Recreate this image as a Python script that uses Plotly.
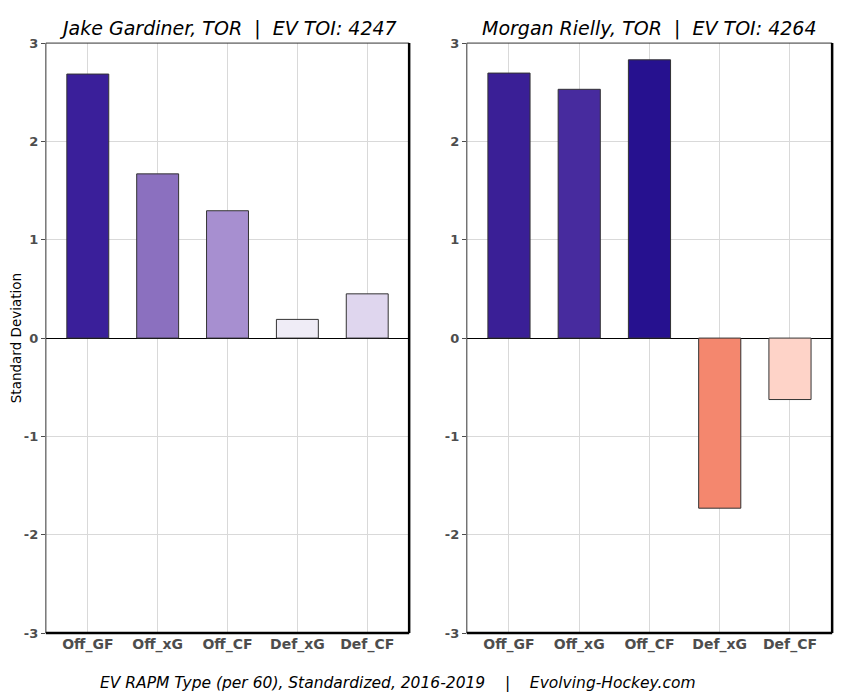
import plotly.graph_objects as go

categories = ["Off_GF", "Off_xG", "Off_CF", "Def_xG", "Def_CF"]
gardiner_vals = [2.685, 1.67, 1.295, 0.19, 0.45]
rielly_vals = [2.695, 2.53, 2.83, -1.73, -0.625]
gardiner_colors = ["#3a1f9a", "#8b70bf", "#a78fd0", "#efecf6", "#dfd6ee"]
rielly_colors = ["#3a1f96", "#472b9e", "#26118f", "#f4876e", "#fed3c8"]
titles = ["Jake Gardiner, TOR  |  EV TOI: 4247", "Morgan Rielly, TOR  |  EV TOI: 4264"]
yticks = [-3, -2, -1, 0, 1, 2, 3]
ytick_text = ["-3", "-2", "-1", "0", "1", "2", "3"]
caption = "EV RAPM Type (per 60), Standardized, 2016-2019    |    Evolving-Hockey.com"

W, H = 850, 700
doms_x = [(0.0423, 0.4707), (0.5387, 0.9695)]
dom_y = (0.0977, 0.959)

fig = go.Figure()
for i, (vals, cols) in enumerate([(gardiner_vals, gardiner_colors), (rielly_vals, rielly_colors)]):
    xa = "x" if i == 0 else "x2"
    ya = "y" if i == 0 else "y2"
    fig.add_trace(go.Bar(
        x=categories, y=vals, xaxis=xa, yaxis=ya, width=0.6,
        marker=dict(color=cols, line=dict(color="#333333", width=1)),
        showlegend=False, hoverinfo="x+y"))

axis_common_x = dict(
    type="category", range=[-0.6, 4.6], showgrid=True, gridcolor="#d9d9d9", gridwidth=1,
    showline=False, zeroline=False, ticks="", ticklabelstandoff=1,
    tickfont=dict(family="DejaVu Sans", size=14, color="#4d4d4d", weight="bold"),
)
axis_common_y = dict(
    range=[-3, 3], tickvals=yticks, ticktext=ytick_text, showgrid=True, gridcolor="#d9d9d9",
    gridwidth=1, zeroline=True, zerolinecolor="black", zerolinewidth=1, showline=False,
    ticks="outside", ticklen=4, tickcolor="#4d4d4d",
    tickfont=dict(family="DejaVu Sans", size=13, color="#4d4d4d", weight="bold"),
)

fig.update_layout(
    width=W, height=H, margin=dict(l=0, r=0, t=0, b=0),
    paper_bgcolor="white", plot_bgcolor="white", bargap=0.4,
    xaxis=dict(domain=doms_x[0], anchor="y", **axis_common_x),
    xaxis2=dict(domain=doms_x[1], anchor="y2", **axis_common_x),
    yaxis=dict(domain=dom_y, anchor="x", title=dict(text="Standard Deviation",
               font=dict(family="DejaVu Sans", size=13.5, color="black"), standoff=6), **axis_common_y),
    yaxis2=dict(domain=dom_y, anchor="x2", **axis_common_y),
)

shapes = []
annotations = []
for i, (x0, x1) in enumerate(doms_x):
    y0, y1 = dom_y
    shapes.append(dict(type="rect", xref="paper", yref="paper", x0=x0, x1=x1, y0=y0, y1=y1,
                       line=dict(color="#333333", width=1), layer="above"))
    shapes.append(dict(type="line", xref="paper", yref="paper", x0=x1, x1=x1, y0=y0, y1=y1,
                       line=dict(color="black", width=2.5), layer="above"))
    shapes.append(dict(type="line", xref="paper", yref="paper", x0=x0, x1=x1, y0=y0, y1=y0,
                       line=dict(color="black", width=2.5), layer="above"))
    annotations.append(dict(text=titles[i], xref="paper", yref="paper", x=(x0 + x1) / 2, y=y1 + 0.002,
                            xanchor="center", yanchor="bottom", showarrow=False,
                            font=dict(family="DejaVu Sans", size=19, color="black", style="italic")))

annotations.append(dict(text=caption, xref="paper", yref="paper", x=0.458, y=0.0248,
                        xanchor="center", yanchor="middle", showarrow=False,
                        font=dict(family="DejaVu Sans", size=15.5, color="black", style="italic")))

fig.update_layout(shapes=shapes, annotations=annotations)
fig.write_html("out.html")
